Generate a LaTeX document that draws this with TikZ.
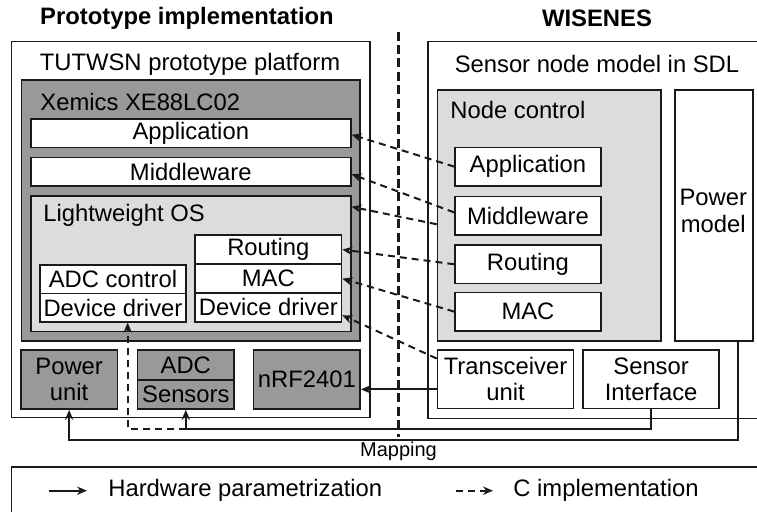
\documentclass[tikz,border=0pt]{standalone}
\usepackage{fontspec}
\setmainfont{Liberation Sans}
\usetikzlibrary{calc,arrows.meta}
\definecolor{darkfill}{HTML}{999999}
\definecolor{lightfill}{HTML}{DCDCDC}
\definecolor{edge}{HTML}{1A1A1A}
% box from its top-left (x1,y1) to its bottom-right (x2,y2) corner
% #1 style, #2 name, #3 x1, #4 y1, #5 x2, #6 y2, #7 text
\newcommand{\blkbox}[7]{%
  \node[#1, anchor=north west,
        minimum width={(#5-#3)*0.5pt}, minimum height={(#6-#4)*0.5pt}]
        (#2) at (#3,#4) {#7};}
\begin{document}
\begin{tikzpicture}[x=0.5pt,y=-0.5pt,
  every node/.style={font=\fontsize{11.9pt}{13.2pt}\selectfont, text=black},
  blk/.style={draw=edge, line width=0.8pt, inner sep=0pt, align=center},
  white blk/.style={blk, fill=white},
  dark blk/.style={blk, fill=darkfill},
  light blk/.style={blk, fill=lightfill},
  lbl/.style={inner sep=0pt},
  title/.style={inner sep=0pt, font=\fontsize{11.9pt}{13.2pt}\selectfont\bfseries},
  hw/.style={draw=edge, line width=1pt, -{Stealth[length=5pt,width=4.2pt]}},
  cimp/.style={hw, dash pattern=on 3.5pt off 2.5pt},
  mapline/.style={draw=edge, line width=1.5pt, dash pattern=on 4.5pt off 2.2pt},
]
\clip (0,0) rectangle (757,512);
\fill[white] (0,0) rectangle (757,512);

% column titles
\node[title] (tproto) at (187,18) {Prototype implementation};
\node[title] (twis) at (597,18) {WISENES};

% ---------- prototype platform ----------
\blkbox{white blk}{proto}{10.7}{40.7}{369}{416.7}{}
\node[lbl] (protolbl) at (190,64) {TUTWSN prototype platform};
\blkbox{dark blk}{xem}{20.7}{79.3}{359}{340}{}
\node[lbl, anchor=west] (xemlbl) at (40,101.7) {Xemics XE88LC02};
\blkbox{white blk}{appL}{30}{118}{350}{146.7}{Application}
\blkbox{white blk}{midL}{30}{156.7}{350}{185.3}{Middleware}
\blkbox{light blk}{los}{30}{195.3}{350}{330.7}{}
\node[lbl, anchor=west] (loslbl) at (43,215.5) {Lightweight OS};
\blkbox{white blk}{routL}{194.3}{234.3}{340.7}{263.3}{Routing}
\blkbox{white blk}{macL}{194.3}{263.3}{340.7}{292.3}{MAC}
\blkbox{white blk}{drvR}{194.3}{292.3}{340.7}{321}{Device driver}
\blkbox{white blk}{adcc}{39.3}{264}{185}{292.7}{ADC control}
\blkbox{white blk}{ddlL}{39.3}{292.7}{185}{321}{Device driver}
\blkbox{dark blk}{pu}{20}{349.3}{116.7}{408.3}{Power\\unit}
\blkbox{dark blk}{adc}{136.7}{349.3}{233.3}{379}{ADC}
\blkbox{dark blk}{sens}{136.7}{379}{233.3}{408.3}{Sensors}
\blkbox{dark blk}{nrf}{252.7}{349.3}{359.3}{408.3}{nRF2401}

% ---------- WISENES model ----------
\blkbox{white blk}{sdl}{427.3}{40.7}{790}{417.7}{}
\node[lbl] (sdllbl) at (597,64) {Sensor node model in SDL};
\blkbox{light blk}{nctl}{436.7}{89.3}{660}{340}{}
\node[lbl, anchor=west] (nctllbl) at (450,110) {Node control};
\blkbox{white blk}{appR}{454.3}{146.7}{600}{185}{Application}
\blkbox{white blk}{midR}{454.3}{195.7}{600}{234}{Middleware}
\blkbox{white blk}{routR}{454.3}{244.3}{600}{282.7}{Routing}
\blkbox{white blk}{macR}{454.3}{291.7}{600}{330}{MAC}
\blkbox{white blk}{pm}{674.3}{89.3}{752.3}{340}{}
\node[lbl, align=center] (pmlbl) at (713.3,211) {Power\\model};
\blkbox{white blk}{trx}{436.7}{349.3}{572.7}{407.7}{Transceiver\\unit}
\blkbox{white blk}{sif}{582.3}{349.3}{718.3}{407.7}{Sensor\\Interface}

% ---------- C implementation mappings ----------
\draw[cimp] (appR.west) -- ($(appL.north east)!0.55!(appL.south east)$);
\draw[cimp] ($(midR.north west)!0.42!(midR.south west)$) -- ($(midL.north east)!0.58!(midL.south east)$);
\draw[cimp] ($(nctl.north west)!0.535!(nctl.south west)$) -- ($(los.north east)!0.084!(los.south east)$);
\draw[cimp] (routR.west) -- (routL.east);
\draw[cimp] (macR.west) -- (macL.east);
\draw[cimp] ($(trx.north west)!0.154!(trx.south west)$) -- ($(drvR.north east)!0.756!(drvR.south east)$);

% ---------- hardware parametrization ----------
\coordinate (trxport) at ($(trx.north west)!0.668!(trx.south west)$);
\draw[hw] (trxport) -- (trxport -| nrf.east);
\draw[hw] (sif.south) -- ++(0,20) coordinate (jn) -| (sens.south);
\draw[cimp] (jn -| sens.south) -| ($(ddlL.south west)!0.6!(ddlL.south east)$);
\coordinate (pmport) at ($(pm.south west)!0.8!(pm.south east)$);
\draw[hw] (pmport) -- ++(0,98.3) -| (pu.south);

% ---------- mapping divider ----------
\coordinate (mtop) at (398.3,31.7);
\coordinate (mbot) at (398.3,436.7);
\draw[mapline] (mtop) -- (mbot);
\node[lbl, font=\fontsize{10pt}{12pt}\selectfont] (maplbl) at (398.5,451) {Mapping};

% ---------- legend ----------
\blkbox{blk, line width=0.9pt}{legend}{10.7}{466}{790}{540}{}
\coordinate (hwa) at (49,490.7);
\coordinate (hwb) at (87,490.7);
\draw[hw] (hwa) -- (hwb);
\node[lbl, anchor=west] (hwtxt) at (108,490.7) {Hardware parametrization};
\coordinate (ca) at (456,490.7);
\coordinate (cb) at (493,490.7);
\draw[cimp] (ca) -- (cb);
\node[lbl, anchor=west] (ctxt) at (513,490.7) {C implementation};
\end{tikzpicture}
\end{document}
